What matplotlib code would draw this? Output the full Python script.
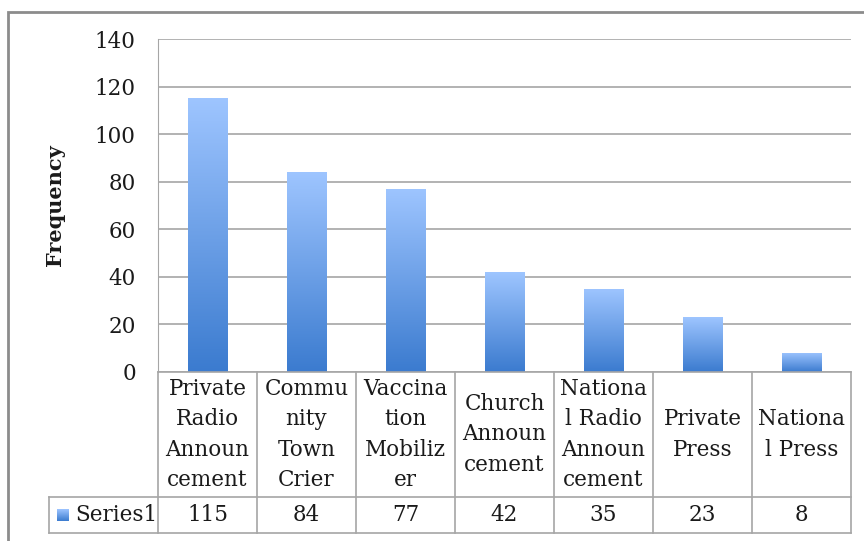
import numpy as np
import matplotlib
matplotlib.use("Agg")
import matplotlib.pyplot as plt
from matplotlib.colors import LinearSegmentedColormap
from matplotlib.patches import Rectangle

plt.rcParams['font.family'] = ['DejaVu Serif']

# data
categories = ["Private\nRadio\nAnnoun\ncement", "Commu\nnity\nTown\nCrier",
              "Vaccina\ntion\nMobiliz\ner", "Church\nAnnoun\ncement",
              "Nationa\nl Radio\nAnnoun\ncement", "Private\nPress", "Nationa\nl Press"]
values = [115, 84, 77, 42, 35, 23, 8]
series_name = "Series1"
y_ticks = [0, 20, 40, 60, 80, 100, 120, 140]

W, H = 864, 541
fig = plt.figure(figsize=(W / 100, H / 100), dpi=100)

grad = LinearSegmentedColormap.from_list("bar", ["#3B7BCF", "#9EC5FF"])
grid_c = "#A6A6A6"
txt_c = "#1A1A1A"

# main plot area (pixel positions from the reference)
px_l, px_r, px_t, px_b = 158, 851, 39, 372
ax = fig.add_axes([px_l / W, 1 - px_b / H, (px_r - px_l) / W, (px_b - px_t) / H])
x = np.arange(len(values))
bars = ax.bar(x, values, width=0.4, facecolor="none", edgecolor="none", zorder=3)
g = np.linspace(0, 1, 256).reshape(-1, 1)
for b in bars:
    bx, by, bw, bh = b.get_x(), b.get_y(), b.get_width(), b.get_height()
    im = ax.imshow(g, cmap=grad, origin="lower", aspect="auto",
                   extent=[bx, bx + bw, by, by + bh], zorder=3)
    im.set_clip_path(b)
ax.set_xlim(-0.5, len(values) - 0.5)
ax.set_ylim(0, 140)
ax.set_yticks(y_ticks)
ax.set_xticks([])
ax.grid(axis="y", color=grid_c, linewidth=1.2, zorder=0)
ax.set_axisbelow(True)
for s in ["top", "right", "bottom"]:
    ax.spines[s].set_visible(False)
ax.spines["left"].set_color(grid_c)
ax.tick_params(axis="y", length=0, pad=16, labelsize=15.5, colors=txt_c)

fig.text(55 / W, 1 - 205 / H, "Frequency", rotation=90, fontsize=15,
         fontweight="bold", ha="center", va="center", color=txt_c)

# data table under the plot
t_l, t_b = 49, 533
tax = fig.add_axes([t_l / W, 1 - t_b / H, (px_r - t_l) / W, (t_b - px_b) / H])
leg_w = (px_l - t_l) / ((px_r - px_l) / len(values))
n = len(values)
row_y = t_b - 497
top_y = t_b - px_b
kw = dict(color=grid_c, linewidth=1.2, clip_on=False)
for k in range(n + 1):
    tax.plot([k - 0.5, k - 0.5], [0, top_y], **kw)
tax.plot([-0.5 - leg_w, n - 0.5], [row_y, row_y], **kw)
tax.plot([-0.5 - leg_w, n - 0.5], [0, 0], **kw)
tax.plot([-0.5 - leg_w, -0.5 - leg_w], [0, row_y], **kw)
tax.plot([-0.5, n - 0.5], [top_y, top_y], **kw)
hdr_mid = (row_y + top_y) / 2
for i, (c, v) in enumerate(zip(categories, values)):
    tax.text(i, hdr_mid, c, ha="center", va="center", fontsize=15.5,
             linespacing=1.5, color=txt_c)
    tax.text(i, row_y / 2, str(v), ha="center", va="center", fontsize=15.5,
             color=txt_c)
# legend key
kx0 = -0.5 - leg_w + 0.08
tax.imshow(g, cmap=grad, origin="lower", aspect="auto",
           extent=[kx0, kx0 + 0.12, row_y / 2 - 6, row_y / 2 + 6])
tax.text(kx0 + 0.19, row_y / 2, series_name, ha="left", va="center",
         fontsize=15.5, color=txt_c)
tax.set_xlim(-0.5 - leg_w, n - 0.5)
tax.set_ylim(0, top_y)
tax.axis("off")

# outer chart border
fig.add_artist(Rectangle((8 / W, -0.05), 1.1, 1 - 12 / H + 0.05,
                         transform=fig.transFigure, fill=False,
                         edgecolor="#8C8C8C", linewidth=2))

fig.savefig("out.png", dpi=100)
